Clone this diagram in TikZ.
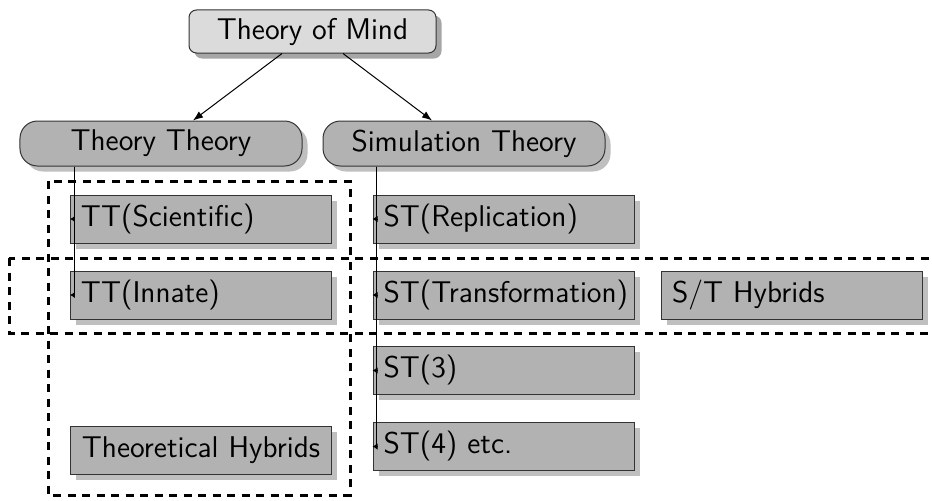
\documentclass[tikz,border=0pt]{standalone}
\usetikzlibrary{shadows,arrows.meta,calc}
\begin{document}
\begin{tikzpicture}[x=0.4pt,y=-0.4pt,font=\sffamily\fontsize{12}{14}\selectfont,
  topbox/.style={draw=black!80,line width=0.4pt,fill=black!14,rounded corners=3pt,
    minimum width=98.8pt,minimum height=17.2pt,inner sep=0pt,
    drop shadow={fill=black!35,opacity=1,shadow xshift=2.2pt,shadow yshift=-2.2pt}},
  midbox/.style={draw=black!80,line width=0.4pt,fill=black!30,rounded corners=7pt,
    minimum width=112.8pt,minimum height=18pt,inner sep=0pt,
    drop shadow={fill=black!25,opacity=1,shadow xshift=2.2pt,shadow yshift=-2.2pt}},
  leafbox/.style={draw=black!80,line width=0.4pt,fill=black!30,
    minimum width=104.4pt,minimum height=19.2pt,inner ysep=0pt,inner xsep=4.2pt,
    text width=96pt,align=left,
    drop shadow={fill=black!25,opacity=1,shadow xshift=2.2pt,shadow yshift=-2.2pt}},
  group/.style={line width=1.2pt,dash pattern=on 3.2pt off 2.6pt},
  mainarrow/.style={line width=0.4pt,-{Latex[length=4pt,width=3pt]}},
  childarrow/.style={line width=0.4pt,-{Latex[length=2pt,width=2.6pt]}}]
\useasboundingbox (0,0) rectangle (932,500);

\node[topbox] (tom) at (312.5,31.5) {Theory of Mind};
\node[midbox] (tt) at (161,143.5) {Theory Theory};
\node[midbox] (st) at (464,143.5) {Simulation Theory};

\node[leafbox] (tts) at (201,219) {TT(Scientific)};
\node[leafbox] (tti) at (201,295) {TT(Innate)};
\node[leafbox,align=center] (th) at (201,450.5) {Theoretical Hybrids};
\node[leafbox] (str) at (503.5,219) {ST(Replication)};
\node[leafbox] (stt) at (503.5,295) {ST(Transformation)};
\node[leafbox] (st3) at (503.5,370.5) {ST(3)};
\node[leafbox] (st4) at (503.5,446.5) {ST(4) etc.};
\node[leafbox] (sth) at (792,295) {S/T Hybrids};

\draw[mainarrow] ($(tom.south)+(-30.5,0)$) -- ($(tt.north)+(32,0)$);
\draw[mainarrow] ($(tom.south)+(30.5,0)$) -- ($(st.north)+(-32,0)$);

\draw[childarrow] ([xshift=22pt]tt.south west) |- (tts.west);
\draw[childarrow] ([xshift=22pt]tt.south west) |- (tti.west);
\draw[childarrow] ([xshift=21.6pt]st.south west) |- (str.west);
\draw[childarrow] ([xshift=21.6pt]st.south west) |- (stt.west);
\draw[childarrow] ([xshift=21.6pt]st.south west) |- (st3.west);
\draw[childarrow] ([xshift=21.6pt]st.south west) |- (st4.west);

\coordinate (ga1) at (48,181);
\coordinate (ga2) at (350,495);
\coordinate (gb1) at (9,258);
\coordinate (gb2) at (945,333);
\draw[group] (ga1) rectangle (ga2);
\draw[group] (gb1) rectangle (gb2);
\end{tikzpicture}
\end{document}
